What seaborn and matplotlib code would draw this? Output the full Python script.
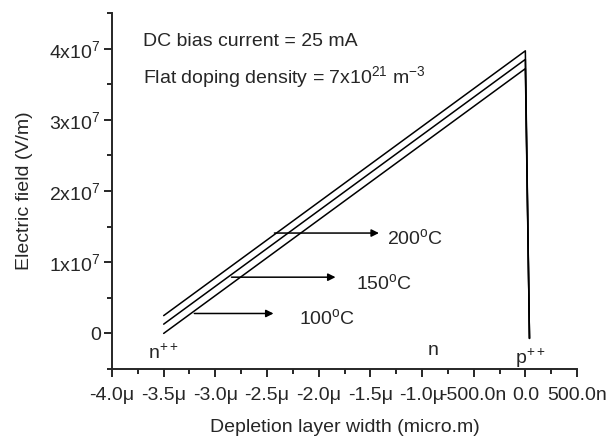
import numpy as np
import pandas as pd
import matplotlib
matplotlib.use("Agg")
import matplotlib.pyplot as plt
import seaborn as sns
from matplotlib.ticker import FixedLocator, FixedFormatter, MultipleLocator

# depletion layer position (m) of the three profile points: n++ edge, junction, p++ side
width_pts = [-3.5e-6, 0.0, 0.04e-6]

# electric field (V/m) at those points for each temperature
field_100 = [0.0, 3.72e7, -0.07e7]
field_150 = [0.13e7, 3.85e7, -0.07e7]
field_200 = [0.25e7, 3.97e7, -0.07e7]

temps = ["100°C", "150°C", "200°C"]

x_ticks = [-4.0e-6, -3.5e-6, -3.0e-6, -2.5e-6, -2.0e-6, -1.5e-6, -1.0e-6, -0.5e-6, 0.0, 0.5e-6]
x_labels = ["-4.0μ", "-3.5μ", "-3.0μ", "-2.5μ", "-2.0μ", "-1.5μ", "-1.0μ", "-500.0n", "0.0", "500.0n"]
y_ticks = [0, 1e7, 2e7, 3e7, 4e7]
y_labels = ["0", "1x10$^{7}$", "2x10$^{7}$", "3x10$^{7}$", "4x10$^{7}$"]

df = pd.concat([
    pd.DataFrame({"width": width_pts, "field": f, "temp": t})
    for f, t in zip([field_100, field_150, field_200], temps)
])

sns.set_style("ticks")
plt.rcParams["font.family"] = ["Liberation Sans", "DejaVu Sans"]
plt.rcParams["mathtext.default"] = "regular"
FS = 14

fig = plt.figure(figsize=(6.13, 4.37), dpi=100)
ax = fig.add_axes([0.1827, 0.1556, 0.7586, 0.8144])

sns.lineplot(data=df, x="width", y="field", hue="temp", units="temp", estimator=None,
             sort=False, palette=["black"] * 3, linewidth=1.1, legend=False, ax=ax)

ax.set_xlim(-4.0e-6, 0.5e-6)
ax.set_ylim(-0.5e7, 4.5e7)
ax.xaxis.set_major_locator(FixedLocator(x_ticks))
ax.xaxis.set_major_formatter(FixedFormatter(x_labels))
ax.xaxis.set_minor_locator(MultipleLocator(0.25e-6))
ax.yaxis.set_major_locator(FixedLocator(y_ticks))
ax.yaxis.set_major_formatter(FixedFormatter(y_labels))
ax.yaxis.set_minor_locator(MultipleLocator(0.5e7))

sns.despine(ax=ax)
for s in ["left", "bottom"]:
    ax.spines[s].set_linewidth(1.4)
ax.tick_params(which="major", direction="out", length=6, width=1.4, labelsize=FS)
ax.tick_params(axis="x", which="major", pad=7)
ax.tick_params(axis="y", which="major", pad=2)
ax.tick_params(which="minor", direction="out", length=3.5, width=1.4)

ax.set_xlabel("Depletion layer width (micro.m)", fontsize=FS, labelpad=11)
ax.set_ylabel("Electric field (V/m)", fontsize=FS, labelpad=12)

ax.text(0.067, 0.921, "DC bias current = 25 mA", transform=ax.transAxes,
        fontsize=FS, va="center")
ax.text(0.067, 0.82, "Flat doping density = 7x10$^{21}$ m$^{-3}$", transform=ax.transAxes,
        fontsize=FS, va="center")

# temperature arrows (start, end x; y)
arrow_start = [-3.23e-6, -2.87e-6, -2.455e-6]
arrow_end = [-2.41e-6, -1.81e-6, -1.39e-6]
arrow_y = [0.28e7, 0.79e7, 1.41e7]
label_x = [-2.19e-6, -1.64e-6, -1.34e-6]
label_y = [0.21e7, 0.71e7, 1.34e7]
for t, xs, xe, ya, lx, ly in zip(temps, arrow_start, arrow_end, arrow_y, label_x, label_y):
    ax.annotate("", xy=(xe, ya), xytext=(xs, ya),
                arrowprops=dict(arrowstyle="-|>", color="black", lw=1.1, mutation_scale=11))
    ax.text(lx, ly, t.replace("°C", "$^{o}$C"), fontsize=FS, va="center")

ax.text(-3.5e-6, -0.28e7, "n$^{++}$", fontsize=FS, ha="center", va="center")
ax.text(-0.89e-6, -0.24e7, "n", fontsize=FS, ha="center", va="center")
ax.text(0.05e-6, -0.35e7, "p$^{++}$", fontsize=FS, ha="center", va="center")

fig.savefig("out.png", dpi=100)
